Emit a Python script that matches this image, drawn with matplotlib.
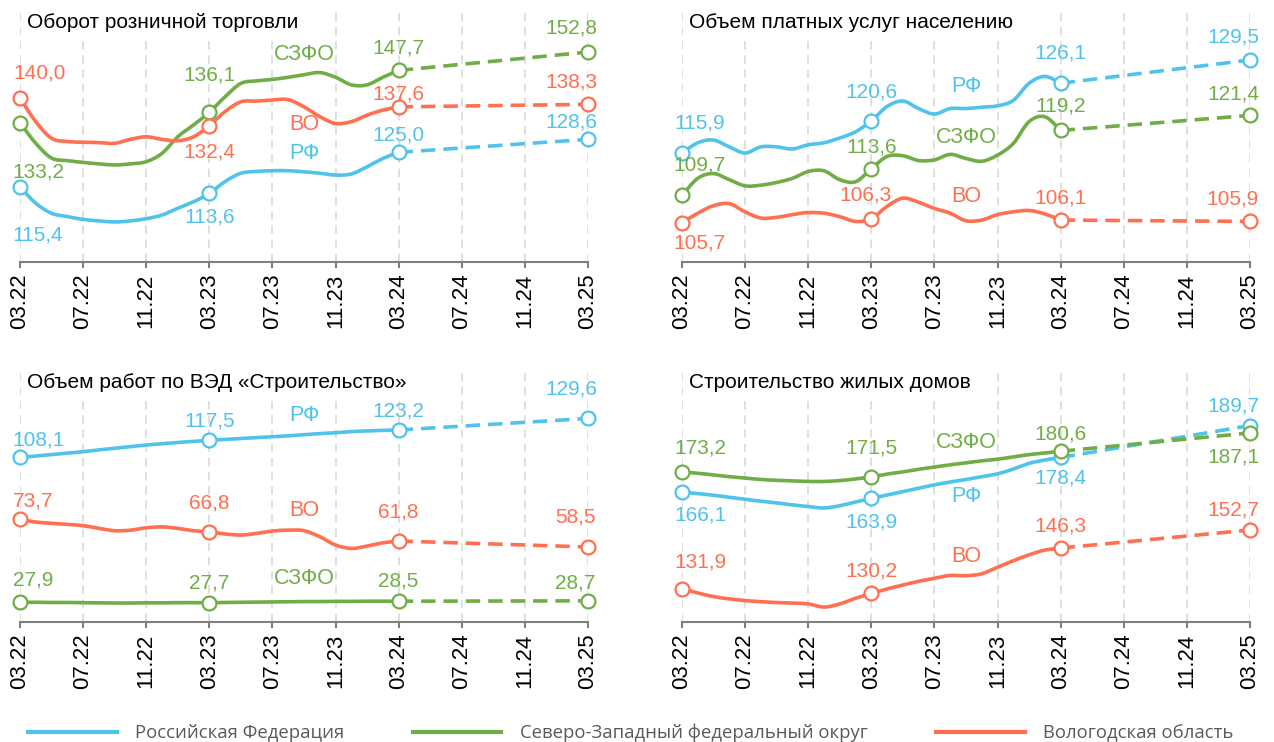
import matplotlib.pyplot as plt
from matplotlib.lines import Line2D
from matplotlib.path import Path
from matplotlib.patches import PathPatch

# ---- data (03.22 .. 03.24 monthly, then forecast value for 03.25) ----
tick_labels = ['03.22', '07.22', '11.22', '03.23', '07.23', '11.23',
               '03.24', '07.24', '11.24', '03.25']
series_names = ['Российская Федерация', 'Северо-Западный федеральный округ',
                'Вологодская область']
short_names = ['РФ', 'СЗФО', 'ВО']

# Оборот розничной торговли
retail_rf = [115.4, 110.9, 108.1, 107.2, 106.4, 106.0, 105.7, 106.0, 106.6, 107.6, 109.5, 111.3,
             113.6, 116.9, 119.2, 119.7, 119.9, 119.9, 119.6, 119.2, 118.7, 119.0, 121.0, 123.3, 125.0]
retail_szfo = [133.2, 127.5, 123.4, 122.7, 122.2, 121.8, 121.5, 121.8, 122.4, 124.7, 129.3, 132.6,
               136.1, 140.4, 144.1, 144.8, 145.2, 145.8, 146.5, 147.1, 145.8, 143.7, 143.7, 145.8, 147.7]
retail_vo = [140.0, 133.5, 128.9, 128.0, 127.8, 127.7, 127.5, 128.6, 129.3, 128.6, 128.2, 129.3,
             132.4, 136.3, 139.0, 139.2, 139.5, 139.6, 137.6, 134.9, 133.0, 133.5, 135.3, 136.7, 137.6]
retail_forecast = [128.6, 152.8, 138.3]

# Объем платных услуг населению
services_rf = [115.9, 117.4, 117.8, 116.8, 115.9, 116.8, 116.8, 116.5, 117.1, 117.4, 118.1, 119.0,
               120.6, 122.7, 123.5, 122.4, 121.6, 122.4, 122.4, 122.6, 122.8, 123.6, 126.1, 127.1, 126.1]
services_szfo = [109.7, 112.2, 112.9, 112.0, 111.1, 111.2, 111.6, 112.2, 113.2, 113.3, 112.0, 111.7,
                 113.6, 115.4, 115.5, 114.8, 114.9, 115.7, 115.1, 114.7, 115.6, 117.3, 120.5, 121.2, 119.2]
services_vo = [105.7, 107.1, 108.2, 108.5, 107.3, 106.4, 106.5, 106.9, 107.2, 107.1, 106.6, 105.9,
               106.3, 108.1, 109.3, 108.7, 107.8, 107.1, 106.0, 106.1, 106.9, 107.3, 107.5, 107.0, 106.1]
services_forecast = [129.5, 121.4, 105.9]

# Объем работ по ВЭД «Строительство»
constr_rf = [108.1, 108.8, 109.6, 110.4, 111.2, 112.2, 113.1, 114.0, 114.9, 115.6, 116.3, 116.9,
             117.5, 118.0, 118.5, 119.0, 119.5, 120.0, 120.6, 121.2, 121.7, 122.3, 122.7, 123.0, 123.2]
constr_szfo = [27.9, 27.9, 27.8, 27.8, 27.7, 27.6, 27.5, 27.5, 27.6, 27.6, 27.7, 27.7,
               27.7, 27.8, 27.9, 28.0, 28.1, 28.2, 28.3, 28.3, 28.4, 28.4, 28.5, 28.5, 28.5]
constr_vo = [73.7, 72.3, 71.6, 71.0, 70.3, 68.8, 67.5, 67.8, 69.1, 69.6, 68.8, 67.5,
             66.8, 65.7, 65.1, 66.0, 67.3, 67.8, 67.5, 64.2, 59.6, 57.7, 59.0, 60.8, 61.8]
constr_forecast = [129.6, 28.7, 58.5]

# Строительство жилых домов
housing_rf = [166.1, 165.6, 165.0, 164.3, 163.6, 162.9, 162.3, 161.6, 161.0, 160.5, 161.3, 162.6,
              163.9, 165.1, 166.3, 167.5, 168.7, 169.7, 170.6, 171.6, 172.6, 174.3, 176.3, 177.5, 178.4]
housing_szfo = [173.2, 172.8, 172.2, 171.6, 171.1, 170.6, 170.3, 170.1, 169.9, 169.9, 170.2, 170.8,
                171.5, 172.5, 173.3, 174.2, 175.0, 175.8, 176.5, 177.2, 177.8, 178.6, 179.4, 180.0, 180.6]
housing_vo = [131.9, 130.4, 129.1, 128.3, 127.7, 127.3, 127.0, 126.8, 126.5, 125.4, 126.5, 128.5,
              130.2, 131.8, 133.2, 134.5, 135.6, 136.6, 136.5, 137.2, 139.5, 141.8, 143.9, 145.6, 146.3]
housing_forecast = [189.7, 187.1, 152.7]

# ---- styling / layout ----
W, H = 1274, 742
COLORS = ['#4FC3EC', '#70AD47', '#FF6F50']
GRID = '#D9D9D9'
AXIS = '#7F7F7F'
FONT = 'Liberation Sans'
PX = 0.72  # pixels -> points at dpi 100

panels = [
    dict(title='Оборот розничной торговли', box=(20, 8, 588, 262), ylim=(94.6, 165.0),
         data=[retail_rf, retail_szfo, retail_vo], fc=retail_forecast,
         names=[124.6, 152.0, 132.6],
         offs=[{0: (18, 48), 12: (0, 24), 24: (0, -17), 36: (-17, -17)},
               {0: (18, 49), 12: (0, -37), 24: (0, -22), 36: (-17, -24)},
               {0: (20, -25), 12: (0, 26), 24: (0, -13), 36: (-17, -22)}]),
    dict(title='Объем платных услуг населению', box=(682, 8, 1250, 262), ylim=(99.97, 137.1),
         data=[services_rf, services_szfo, services_vo], fc=services_forecast,
         names=[125.6, 118.2, 109.6],
         offs=[{0: (18, -30), 12: (0, -29), 24: (0, -30), 36: (-17, -23)},
               {0: (18, -30), 12: (0, -22), 24: (0, -24), 36: (-17, -21)},
               {0: (18, 20), 12: (-6, -24), 24: (0, -22), 36: (-17, -22)}]),
    dict(title='Объем работ по ВЭД «Строительство»', box=(20, 368, 588, 622), ylim=(17.0, 157.5),
         data=[constr_rf, constr_szfo, constr_vo], fc=constr_forecast,
         names=[131.5, 41.3, 78.9],
         offs=[{0: (18, -17), 12: (0, -19), 24: (0, -19), 36: (-17, -29)},
               {0: (13, -22), 12: (0, -20), 24: (0, -20), 36: (-13, -18)},
               {0: (13, -18), 12: (0, -29), 24: (0, -29), 36: (-13, -30)}]),
    dict(title='Строительство жилых домов', box=(682, 368, 1250, 622), ylim=(120.1, 210.1),
         data=[housing_rf, housing_szfo, housing_vo], fc=housing_forecast,
         names=[164.4, 183.6, 143.2],
         offs=[{0: (18, 23), 12: (0, 24), 24: (0, 21), 36: (-17, -20)},
               {0: (18, -24), 12: (0, -29), 24: (0, -17), 36: (-17, 24)},
               {0: (18, -27), 12: (0, -22), 24: (0, -22), 36: (-17, -20)}]),
]


def smooth_path(xs, ys):
    # Catmull-Rom segments expressed as cubic Bezier curves (like Excel's smoothed line)
    verts = [(xs[0], ys[0])]
    codes = [Path.MOVETO]
    n = len(xs)
    for i in range(n - 1):
        x0, y0 = (xs[i - 1], ys[i - 1]) if i > 0 else (xs[i], ys[i])
        x1, y1 = xs[i], ys[i]
        x2, y2 = xs[i + 1], ys[i + 1]
        x3, y3 = (xs[i + 2], ys[i + 2]) if i + 2 < n else (x2, y2)
        verts += [(x1 + (x2 - x0) / 6, y1 + (y2 - y0) / 6),
                  (x2 - (x3 - x1) / 6, y2 - (y3 - y1) / 6),
                  (x2, y2)]
        codes += [Path.CURVE4] * 3
    return Path(verts, codes)


plt.rcParams['font.family'] = [FONT, 'DejaVu Sans']
fig = plt.figure(figsize=(W / 100, H / 100), dpi=100)

for p in panels:
    l, t, r, b = p['box']
    ax = fig.add_axes([l / W, 1 - b / H, (r - l) / W, (b - t) / H])
    ax.set_xlim(0, 36)
    ax.set_ylim(*p['ylim'])
    for s in ['top', 'right', 'left']:
        ax.spines[s].set_visible(False)
    ax.spines['bottom'].set_color(AXIS)
    ax.spines['bottom'].set_linewidth(1.5)
    ax.set_yticks([])
    ticks = list(range(0, 37, 4))
    ax.set_xticks(ticks)
    ax.set_xticklabels(tick_labels, rotation=90, fontsize=16)
    ax.tick_params(axis='x', length=4.5, width=1.5, color=AXIS, pad=4)
    for x in ticks:
        ax.axvline(x, color=GRID, lw=1.2, ls=(0, (5, 3.5)), zorder=0)

    months = list(range(25))
    for i, (vals, col) in enumerate(zip(p['data'], COLORS)):
        ax.add_patch(PathPatch(smooth_path(months, vals), fill=False, ec=col,
                               lw=2.6, capstyle='round', joinstyle='round', zorder=2))
        ax.plot([24, 36], [vals[24], p['fc'][i]], color=col, lw=2.6,
                ls=(0, (4, 2.2)), zorder=2)
        pts = {0: vals[0], 12: vals[12], 24: vals[24], 36: p['fc'][i]}
        ax.plot(list(pts.keys()), list(pts.values()), 'o', ms=10, mfc='white',
                mec=col, mew=1.6, clip_on=False, zorder=3)
        for m, v in pts.items():
            dx, dy = p['offs'][i][m]
            ax.annotate(f'{v:.1f}'.replace('.', ','), (m, v),
                        xytext=(dx * PX, -dy * PX), textcoords='offset points',
                        ha='center', va='center', fontsize=15, color=col,
                        annotation_clip=False, zorder=4)
        ax.text(18, p['names'][i], short_names[i], ha='center', va='center',
                fontsize=15.5, color=col, zorder=4)

    fig.text((l + 7) / W, 1 - (t + 14) / H, p['title'], fontsize=15,
             ha='left', va='center', color='black', zorder=5,
             bbox=dict(boxstyle='square,pad=0.3', fc='white', ec='none'))

handles = [Line2D([0], [0], color=c, lw=3) for c in COLORS]
fig.legend(handles, series_names, loc='center left',
           bbox_to_anchor=(28 / W, 9 / H), ncol=3, frameon=False,
           prop={'family': 'Open Sans', 'size': 13.3}, labelcolor='#595959',
           handlelength=4.8, handletextpad=1.0, columnspacing=3.7,
           borderpad=0, borderaxespad=0)

fig.savefig('out.png', dpi=100)
